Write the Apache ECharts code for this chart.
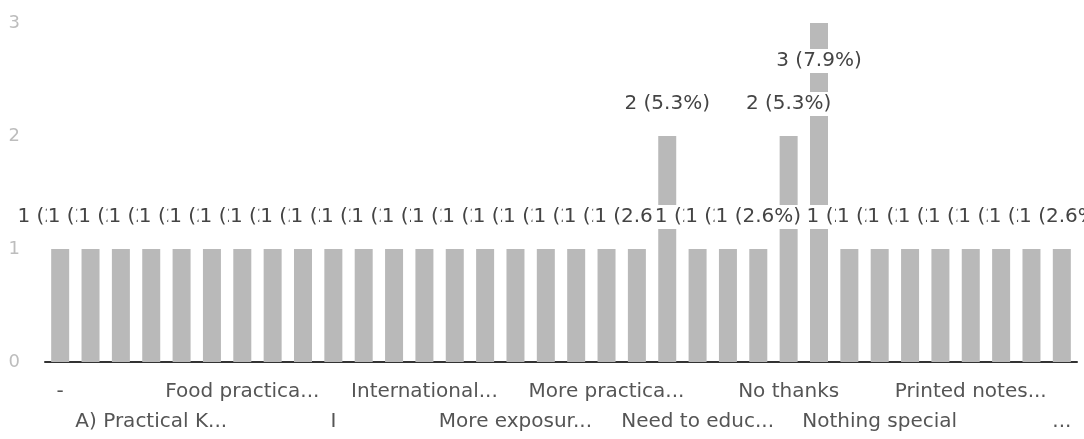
<!DOCTYPE html>
<html>
<head>
<meta charset="utf-8">
<script src="https://cdn.jsdelivr.net/npm/echarts@6/dist/echarts.min.js"></script>
<style>
html,body{margin:0;padding:0;background:#fff;}
#chart{width:1084px;height:439px;}
</style>
</head>
<body>
<div id="chart"></div>
<script>
// Categories (only every third label is visible in the reference; hidden ones are placeholders)
const categories = [
  "-", "(response 2)", "(response 3)", "A) Practical K...", "(response 5)", "(response 6)",
  "Food practica...", "(response 8)", "(response 9)", "I", "(response 11)", "(response 12)",
  "International...", "(response 14)", "(response 15)", "More exposur...", "(response 17)", "(response 18)",
  "More practica...", "(response 20)", "(response 21)", "Need to educ...", "(response 23)", "(response 24)",
  "No thanks", "(response 26)", "(response 27)", "Nothing special", "(response 29)", "(response 30)",
  "Printed notes...", "(response 32)", "(response 33)", "..."
];
const counts = [
  1, 1, 1, 1, 1, 1, 1, 1, 1, 1,
  1, 1, 1, 1, 1, 1, 1, 1, 1, 1,
  2, 1, 1, 1, 2, 3, 1, 1, 1, 1,
  1, 1, 1, 1
];
const yTicks = [0, 1, 2, 3];

const total = counts.reduce((a, b) => a + b, 0);
const maxVal = Math.max(...counts);
const FONT = "DejaVu Sans";

const seriesData = counts.map(v => {
  const item = { value: v };
  if (v === maxVal) {
    item.label = { position: "insideTop", distance: 26 };
  }
  return item;
});

const chart = echarts.init(document.getElementById("chart"), null, { renderer: "canvas" });
chart.setOption({
  animation: false,
  backgroundColor: "#ffffff",
  grid: { left: 45, right: 7, top: 23, bottom: 77, containLabel: false, outerBoundsMode: "none" },
  xAxis: {
    type: "category",
    data: categories,
    axisLine: { show: true, lineStyle: { color: "#333333", width: 2 } },
    axisTick: { show: false },
    axisLabel: {
      interval: 2,
      margin: 15,
      color: "#555555",
      fontFamily: FONT,
      fontSize: 20,
      lineHeight: 30,
      formatter: function (value, index) {
        return (Math.round(index / 3) % 2 === 1) ? "\n" + value : value;
      }
    }
  },
  yAxis: {
    type: "value",
    min: yTicks[0],
    max: yTicks[yTicks.length - 1],
    interval: 1,
    axisLine: { show: false },
    axisTick: { show: false },
    splitLine: { show: false },
    axisLabel: { color: "#bdbdbd", fontFamily: FONT, fontSize: 18, margin: 25 }
  },
  series: [{
    type: "bar",
    data: seriesData,
    barWidth: 18,
    itemStyle: { color: "#b9b9b9" },
    label: {
      show: true,
      position: "top",
      distance: 20,
      color: "#444444",
      fontFamily: FONT,
      fontSize: 20,
      backgroundColor: "#ffffff",
      padding: [2, 1, 2, 1],
      formatter: function (p) {
        return p.value + " (" + (p.value / total * 100).toFixed(1) + "%)";
      }
    }
  }]
});
</script>
</body>
</html>
